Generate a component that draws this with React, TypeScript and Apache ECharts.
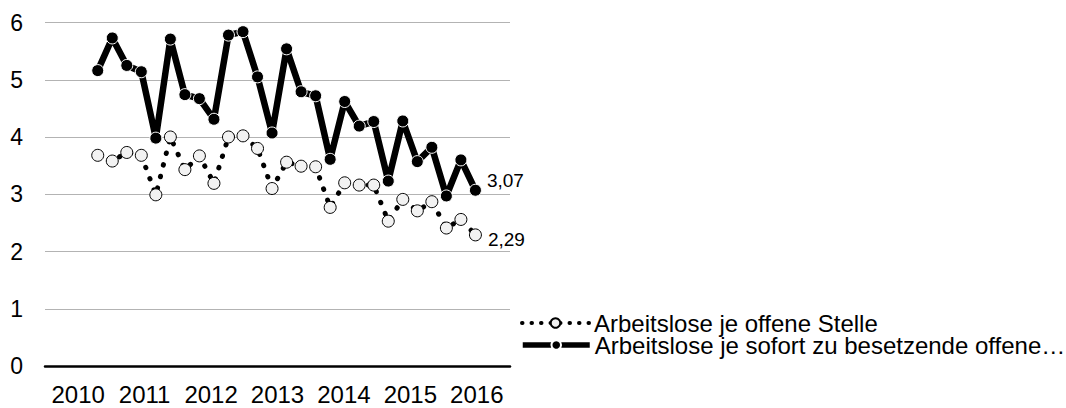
import React, { useEffect, useRef } from 'react';
import * as echarts from 'echarts';

const yearLabels = ['2010', '2011', '2012', '2013', '2014', '2015', '2016'];
const seriesNames = ['Arbeitslose je offene Stelle', 'Arbeitslose je sofort zu besetzende offene…'];
const offeneStelle = [
  3.68, 3.58, 3.73, 3.68, 2.99, 4.0, 3.43, 3.67, 3.19, 4.0, 4.02, 3.8, 3.1, 3.56,
  3.49, 3.48, 2.77, 3.2, 3.16, 3.16, 2.53, 2.91, 2.71, 2.87, 2.41, 2.56, 2.29,
];
const sofortOffene = [
  5.16, 5.73, 5.25, 5.14, 3.98, 5.71, 4.74, 4.67, 4.31, 5.78, 5.84, 5.05, 4.07, 5.54,
  4.79, 4.72, 3.61, 4.62, 4.19, 4.27, 3.23, 4.28, 3.57, 3.82, 2.97, 3.6, 3.07,
];

const FONT = '"Liberation Sans", Arial, sans-serif';

export default function App() {
  const ref = useRef<HTMLDivElement>(null);
  useEffect(() => {
    document.body.style.margin = '0';
    const chart = echarts.init(ref.current as HTMLDivElement, null, { renderer: 'svg' });
    const fmt = (p: any) => Number(p.value[1]).toFixed(2).replace('.', ',');
    const toData = (arr: number[], offset: number[], distance: number) =>
      arr.map((v, i) =>
        i === arr.length - 1
          ? {
              value: [i, v],
              label: {
                show: true,
                position: 'right',
                distance,
                offset,
                formatter: fmt,
                fontSize: 19,
                color: '#000',
                fontFamily: FONT,
              },
            }
          : [i, v]
      );

    const legendBase = {
      orient: 'vertical',
      left: 515,
      itemWidth: 67,
      itemHeight: 12,
      itemGap: 0,
      textStyle: { fontSize: 24, color: '#000', fontFamily: FONT },
    };

    chart.setOption({
      animation: false,
      textStyle: { fontFamily: FONT },
      grid: { left: 45, right: 556, top: 22.5, bottom: 42, containLabel: false },
      legend: [
        { ...legendBase, top: 306, data: [seriesNames[0]], lineStyle: { width: 4, type: [0.5, 9], cap: 'round' } },
        { ...legendBase, top: 328, data: [seriesNames[1]], lineStyle: { width: 5.5 } },
      ],
      xAxis: [
        {
          type: 'category',
          data: yearLabels,
          boundaryGap: true,
          axisLine: { lineStyle: { color: '#000', width: 2.5 } },
          axisTick: { show: false },
          axisLabel: { fontSize: 24, color: '#000', margin: 16, interval: 0, fontFamily: FONT },
        },
        {
          type: 'value',
          min: -3.63,
          max: 28.38,
          show: false,
          splitLine: { show: false },
        },
      ],
      yAxis: {
        type: 'value',
        min: 0,
        max: 6,
        interval: 1,
        axisLine: { show: false },
        axisTick: { show: false },
        axisLabel: { fontSize: 23, color: '#000', margin: 22, fontFamily: FONT },
        splitLine: { lineStyle: { color: '#b3b3b3', width: 1 } },
      },
      series: [
        {
          name: seriesNames[0],
          type: 'line',
          xAxisIndex: 1,
          data: toData(offeneStelle, [0, 5], 6),
          symbol: 'circle',
          symbolSize: 12,
          itemStyle: { color: '#f2f2f2', borderColor: '#000', borderWidth: 1 },
          lineStyle: { color: '#000', width: 5, type: [0.5, 11.5], cap: 'round' },
          z: 2,
        },
        {
          name: seriesNames[1],
          type: 'line',
          xAxisIndex: 1,
          data: toData(sofortOffene, [0, -10], 5),
          symbol: 'circle',
          symbolSize: 12,
          itemStyle: { color: '#000', borderColor: '#fff', borderWidth: 1 },
          lineStyle: { color: '#000', width: 6.5 },
          z: 3,
        },
      ],
    });
    return () => chart.dispose();
  }, []);
  return (
    <div
      ref={ref}
      style={{ position: 'absolute', left: 0, top: 0, width: 1066, height: 408 }}
    />
  );
}
